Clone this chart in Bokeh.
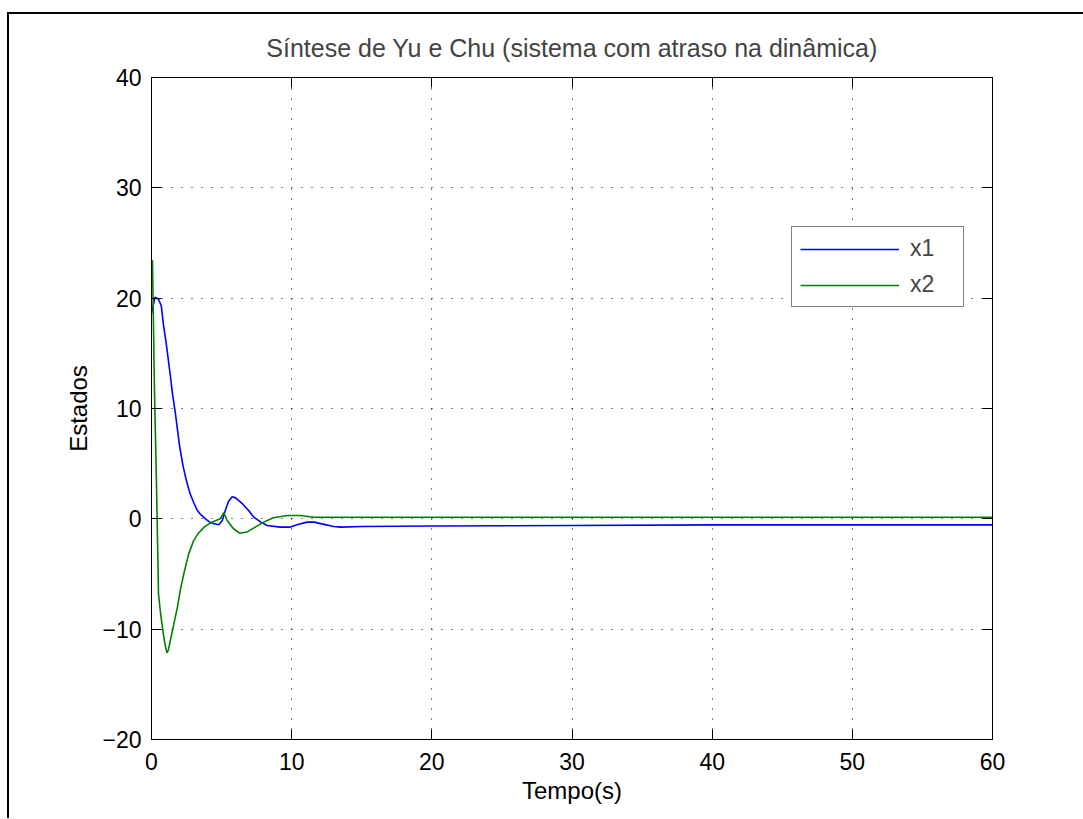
from bokeh.plotting import figure
from bokeh.models import (Range1d, FixedTicker, LinearAxis, Legend, LegendItem,
                          InlineStyleSheet)
from bokeh.embed import file_html
from bokeh.resources import INLINE

# State trajectories of the closed loop (time in seconds)
t_x1 = [0, 0.25, 0.5, 0.7, 0.85, 1.05, 1.2, 1.35, 1.5, 1.7, 1.85, 2.0, 2.25, 2.5,
        2.75, 3.0, 3.25, 3.5, 3.85, 4.2, 4.8, 5.05, 5.3, 5.5, 5.75, 6.0, 6.5, 7.0,
        7.3, 7.8, 8.25, 9.2, 9.9, 10.5, 11.1, 11.6, 12.3, 13.0, 13.5, 15, 20, 30,
        40, 50, 60]
x1 = [18.6, 20.1, 19.9, 19.3, 17.6, 15.9, 14.4, 12.9, 11.3, 9.6, 8.1, 6.6, 4.8, 3.4,
      2.3, 1.5, 0.8, 0.4, 0.0, -0.35, -0.53, -0.15, 0.9, 1.6, 2.0, 1.9, 1.35, 0.65,
      0.15, -0.3, -0.6, -0.75, -0.75, -0.5, -0.3, -0.3, -0.5, -0.7, -0.75, -0.7,
      -0.65, -0.6, -0.55, -0.55, -0.55]

t_x2 = [0, 0.07, 0.21, 0.35, 0.5, 0.65, 0.78, 0.95, 1.1, 1.2, 1.35, 1.6, 1.85, 2.05,
        2.3, 2.65, 3.0, 3.35, 3.75, 4.3, 4.9, 5.15, 5.4, 5.85, 6.3, 6.8, 7.4, 8.0,
        8.7, 9.7, 10.6, 11.6, 13, 20, 30, 40, 50, 60]
x2 = [23.4, 23.4, 11.8, 3.5, -6.8, -8.6, -9.85, -11.3, -12.15, -11.9, -11.0, -9.5,
      -8.0, -6.5, -5.0, -3.2, -2.0, -1.3, -0.75, -0.3, 0.0, 0.55, -0.15, -0.9, -1.3,
      -1.2, -0.75, -0.3, 0.1, 0.3, 0.3, 0.15, 0.15, 0.15, 0.15, 0.15, 0.15, 0.15]

x_ticks = [0, 10, 20, 30, 40, 50, 60]
y_ticks = [-20, -10, 0, 10, 20, 30, 40]

title_text = "Síntese de Yu e Chu (sistema com atraso na dinâmica)"
x_label = "Tempo(s)"
y_label = "Estados"
series_names = ["x1", "x2"]
series_colors = ["#0000ff", "#008000"]

FONT = "Liberation Sans"

p = figure(width=1074, height=804,
           x_range=Range1d(x_ticks[0], x_ticks[-1]),
           y_range=Range1d(y_ticks[0], y_ticks[-1]),
           output_backend="svg", toolbar_location=None,
           min_border_left=142, min_border_right=91,
           min_border_top=63, min_border_bottom=79)
p.margin = (14, 0, 0, 9)
# window frame: a line along the left and top edges of the figure
p.stylesheets = [InlineStyleSheet(css="""
:host { position: relative; }
:host::before {
  content: "";
  position: absolute;
  left: -2px; top: -2px; right: 0; bottom: 0;
  border-left: 2px solid black;
  border-top: 2px solid black;
  pointer-events: none;
}
""")]

p.title.text = title_text
p.title.text_font = FONT
p.title.text_font_size = "25px"
p.title.text_font_style = "normal"
p.title.align = "center"
p.title.standoff = 32

p.outline_line_color = "black"
p.outline_line_width = 1
p.background_fill_color = "white"
p.border_fill_color = "white"


def style_axis(ax, ticks, show_labels):
    ax.ticker = FixedTicker(ticks=ticks)
    ax.axis_line_color = "black"
    ax.major_tick_line_color = "black"
    ax.major_tick_in = 10
    ax.major_tick_out = 0
    ax.minor_tick_line_color = None
    ax.major_label_text_font = FONT
    ax.major_label_text_color = "black"
    ax.axis_label_text_font = FONT
    ax.axis_label_text_font_style = "normal"
    ax.axis_label_text_color = "black"
    if show_labels:
        ax.major_label_text_font_size = "23px"
        ax.major_label_standoff = 10
    else:
        ax.major_label_text_font_size = "0px"
        ax.major_label_overrides = {v: "" for v in ticks}
        ax.major_label_standoff = 0


style_axis(p.xaxis[0], x_ticks, True)
style_axis(p.yaxis[0], y_ticks, True)
p.xaxis[0].major_label_standoff = 13
p.xaxis[0].axis_label = x_label
p.xaxis[0].axis_label_text_font_size = "24px"
p.xaxis[0].axis_label_standoff = 4
p.yaxis[0].axis_label = y_label
p.yaxis[0].axis_label_text_font_size = "24px"
p.yaxis[0].axis_label_standoff = 7

top_axis = LinearAxis()
right_axis = LinearAxis()
style_axis(top_axis, x_ticks, False)
style_axis(right_axis, y_ticks, False)
p.add_layout(top_axis, "above")
p.add_layout(right_axis, "right")

p.xgrid.ticker = FixedTicker(ticks=x_ticks)
p.ygrid.ticker = FixedTicker(ticks=y_ticks)
p.grid.grid_line_color = "black"
p.grid.grid_line_width = 1
p.grid.grid_line_dash = "1 9"

r1 = p.line(t_x1, x1, line_color=series_colors[0], line_width=1.6)
r2 = p.line(t_x2, x2, line_color=series_colors[1], line_width=1.6)

legend = Legend(items=[LegendItem(label=series_names[0], renderers=[r1]),
                       LegendItem(label=series_names[1], renderers=[r2])],
                location=(640, 432), margin=0, padding=8,
                glyph_width=99, glyph_height=22, label_height=22,
                label_width=45, spacing=9, label_standoff=11,
                label_text_font=FONT, label_text_font_size="23px",
                border_line_color="black", border_line_width=1,
                background_fill_color="white", background_fill_alpha=1.0)
p.add_layout(legend)

open("out.html", "w").write(file_html(p, INLINE))
